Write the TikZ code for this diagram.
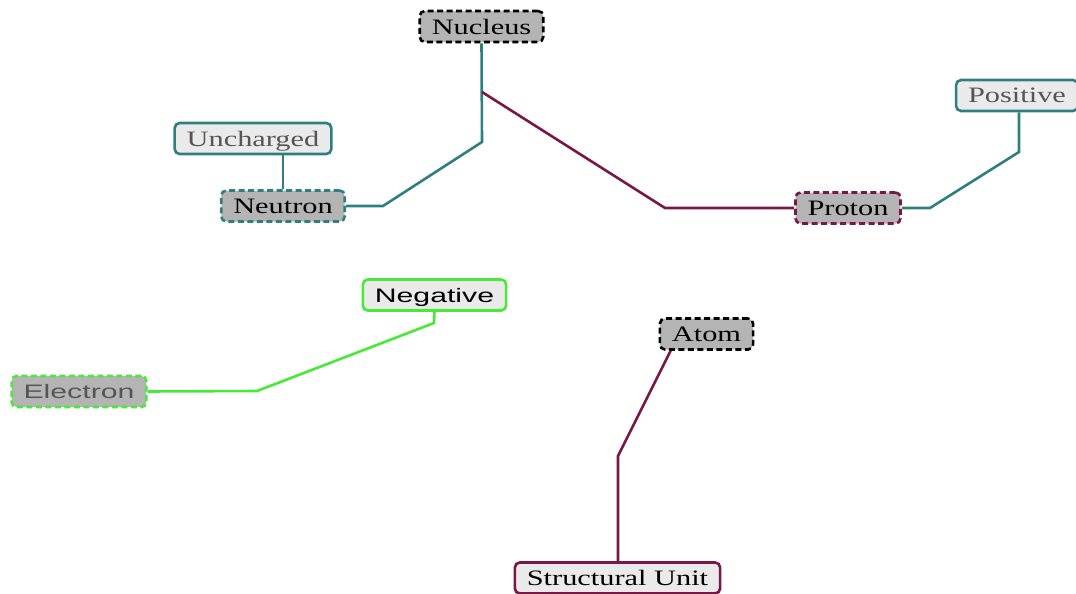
\documentclass[tikz,border=0pt]{standalone}
\usepackage{fontspec}
\setmainfont{Liberation Serif}
\newfontfamily\serifwide[FakeStretch=1.38]{Liberation Serif}
\newfontfamily\sanswide[FakeStretch=1.55]{Liberation Sans}
\definecolor{tealc}{HTML}{2F7F80}
\definecolor{maroonc}{HTML}{7A1648}
\definecolor{greenc}{HTML}{48EA38}
\definecolor{darkfill}{HTML}{B4B4B4}
\definecolor{lightfill}{HTML}{EAEAEA}
\definecolor{greytext}{HTML}{555555}
\tikzset{
  box/.style={rounded corners=5pt, line width=2.6pt, inner xsep=12pt, inner ysep=0pt,
    minimum height=31pt, text depth=0pt},
  serifbox/.style={box, font=\serifwide\fontsize{22}{24}\selectfont},
  sansbox/.style={box, font=\sanswide\fontsize{19.5}{21}\selectfont},
  concept/.style={fill=darkfill, dash pattern=on 6pt off 3.5pt},
  prop/.style={fill=lightfill},
  link/.style={line width=2.6pt},
}
\begin{document}
\begin{tikzpicture}[x=1pt,y=-1pt]
\useasboundingbox (0,0) rectangle (1076,594);
% nodes
\node[serifbox, concept, draw=black] (nucleus) at (481.5,26.5) {Nucleus};
\node[serifbox, prop, draw=tealc, text=greytext] (uncharged) at (253,138.5) {Uncharged};
\node[serifbox, concept, draw=tealc] (neutron) at (283,206) {Neutron};
\node[serifbox, concept, draw=maroonc] (proton) at (848,208) {Proton};
\node[serifbox, prop, draw=tealc, text=greytext] (positive) at (1017,95.5) {Positive};
\node[sansbox, prop, draw=greenc] (negative) at (434.5,295) {Negative};
\node[sansbox, concept, draw=greenc, text=greytext] (electron) at (79,391.5) {Electron};
\node[serifbox, concept, draw=black] (atom) at (706.5,334) {Atom};
\node[serifbox, prop, draw=maroonc] (structural) at (617.5,578) {Structural Unit};
% bend points
\coordinate (n1) at (482,142);
\coordinate (n2) at (383,206);
\coordinate (nb) at (482,92);
\coordinate (p1) at (665,208);
\coordinate (q1) at (930,208);
\coordinate (q2) at (1019,152);
\coordinate (e1) at (257,391);
\coordinate (e2) at (434,323);
\coordinate (a1) at (618,456);
% connectors
\draw[link, tealc] (nucleus.south) -- (n1) -- (n2) -- (neutron.east);
\draw[link, tealc] (uncharged.south -| neutron.north) -- (neutron.north);
\draw[link, maroonc] (nb) -- (p1) -- (proton.west);
\draw[link, tealc] (proton.east) -- (q1) -- (q2) -- (q2 |- positive.south);
\draw[link, greenc] (electron.east) -- (e1) -- (e2) -- (negative.south);
\draw[link, maroonc] (atom.south west) ++(12,0) -- (a1) -- (structural.north -| a1);
\end{tikzpicture}
\end{document}
